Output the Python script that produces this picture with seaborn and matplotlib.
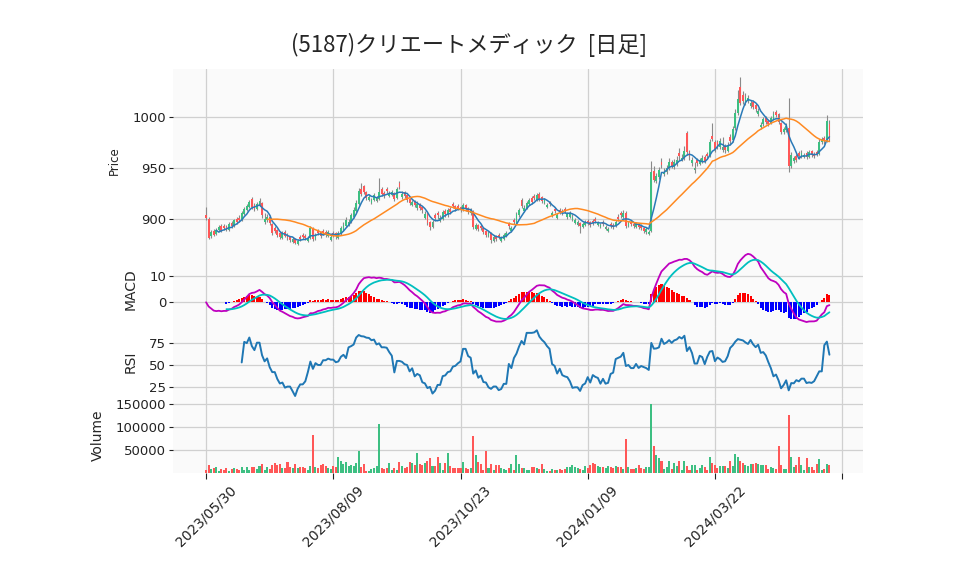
import numpy as np
import pandas as pd
import seaborn as sns
import matplotlib.pyplot as plt

title = '(5187)クリエートメディック  [日足]'
tick_pos = [0, 50, 100, 150, 200, 250]
tick_labels = ['2023/05/30', '2023/08/09', '2023/10/23', '2024/01/09', '2024/03/22', '']

opens = [
    903, 900, 883, 888, 885, 889, 893, 893, 892, 889, 896, 893, 900, 901, 899, 904, 908, 911, 919, 913,
    909, 913, 915, 897, 899, 902, 895, 891, 889, 886, 881, 887, 884, 882, 877, 880, 875, 882, 884, 883,
    878, 881, 891, 880, 888, 887, 888, 887, 883, 879, 886, 886, 881, 885, 889, 893, 894, 897, 902, 907,
    914, 929, 932, 926, 918, 915, 918, 917, 919, 929, 925, 929, 922, 923, 925, 920, 935, 921, 926, 923,
    919, 913, 917, 910, 914, 911, 901, 905, 897, 892, 903, 905, 898, 900, 907, 903, 909, 914, 912, 912,
    911, 908, 913, 910, 905, 907, 890, 894, 893, 891, 888, 883, 886, 878, 883, 884, 878, 880, 883, 895,
    888, 899, 896, 903, 918, 907, 910, 914, 920, 922, 918, 924, 921, 915, 911, 916, 903, 909, 901, 908,
    907, 909, 902, 902, 899, 896, 894, 896, 892, 894, 898, 897, 898, 900, 894, 892, 897, 890, 888, 895,
    894, 893, 902, 905, 902, 905, 893, 897, 895, 892, 895, 893, 891, 887, 885, 888, 947, 937, 941, 956,
    944, 946, 950, 956, 951, 954, 965, 958, 960, 984, 966, 955, 948, 958, 954, 956, 961, 964, 962, 981,
    975, 975, 971, 968, 972, 967, 980, 977, 989, 1004, 1030, 1022, 1014, 1016, 1011, 1015, 1012, 1003, 990, 993,
    999, 996, 994, 998, 1005, 1003, 994, 985, 987, 989, 952, 957, 962, 965, 961, 961, 965, 961, 967, 964,
    966, 964, 975, 979, 976, 993,
]
highs = [
    911, 902, 889, 890, 891, 894, 895, 895, 894, 897, 898, 900, 902, 903, 907, 911, 914, 918, 921, 915,
    916, 920, 916, 905, 904, 903, 896, 893, 890, 887, 888, 889, 886, 883, 882, 881, 880, 884, 886, 885,
    883, 893, 892, 886, 890, 888, 890, 889, 889, 884, 888, 887, 888, 893, 897, 902, 900, 905, 911, 918,
    930, 935, 933, 927, 923, 920, 925, 922, 940, 931, 927, 931, 927, 928, 926, 931, 937, 927, 927, 924,
    920, 918, 918, 917, 915, 912, 907, 906, 898, 899, 905, 907, 903, 908, 909, 910, 911, 916, 913, 914,
    912, 915, 914, 911, 910, 908, 896, 895, 895, 892, 889, 888, 887, 884, 884, 886, 883, 886, 888, 897,
    893, 901, 906, 910, 920, 913, 917, 920, 922, 924, 925, 926, 922, 920, 915, 917, 907, 911, 905, 910,
    909, 911, 906, 907, 904, 901, 899, 897, 897, 899, 900, 898, 900, 902, 898, 896, 899, 894, 892, 897,
    896, 899, 904, 907, 908, 907, 898, 899, 897, 897, 896, 895, 892, 892, 889, 957, 952, 945, 951, 960,
    950, 953, 960, 958, 959, 962, 970, 964, 972, 986, 968, 961, 956, 960, 960, 963, 963, 966, 978, 994,
    977, 977, 979, 980, 974, 975, 983, 991, 1008, 1027, 1040, 1026, 1024, 1022, 1017, 1017, 1014, 1009, 995, 1000,
    1001, 998, 1001, 1006, 1007, 1004, 995, 990, 994, 1019, 966, 962, 964, 967, 968, 965, 967, 968, 968, 966,
    968, 978, 980, 981, 1002, 997,
]
lows = [
    899, 880, 881, 883, 884, 888, 887, 889, 888, 888, 891, 892, 895, 897, 898, 903, 907, 910, 909, 907,
    908, 912, 901, 895, 897, 894, 884, 886, 882, 880, 880, 882, 879, 877, 876, 875, 874, 878, 880, 879,
    877, 880, 878, 879, 884, 881, 884, 882, 882, 878, 882, 880, 880, 884, 888, 892, 893, 896, 901, 906,
    913, 922, 924, 918, 917, 914, 917, 916, 918, 922, 920, 925, 921, 922, 917, 919, 929, 919, 920, 916,
    913, 912, 911, 908, 908, 905, 900, 894, 889, 891, 898, 900, 897, 899, 902, 902, 904, 910, 907, 908,
    906, 907, 907, 904, 903, 890, 889, 888, 889, 885, 882, 882, 876, 877, 878, 880, 877, 879, 882, 890,
    887, 895, 895, 902, 910, 906, 909, 913, 914, 918, 917, 917, 915, 914, 910, 912, 902, 905, 900, 904,
    903, 905, 900, 901, 898, 895, 893, 886, 891, 893, 894, 892, 894, 896, 893, 891, 893, 889, 887, 891,
    890, 892, 898, 901, 901, 891, 892, 893, 891, 891, 890, 889, 886, 885, 884, 887, 936, 935, 939, 950,
    942, 944, 948, 950, 949, 952, 958, 957, 958, 963, 958, 952, 945, 952, 953, 955, 955, 959, 961, 976,
    966, 969, 969, 966, 965, 966, 973, 975, 987, 1002, 1012, 1013, 1012, 1014, 1009, 1008, 1005, 1001, 988, 991,
    993, 991, 993, 997, 1000, 993, 983, 983, 985, 946, 950, 955, 956, 959, 960, 960, 959, 960, 961, 960,
    962, 963, 974, 974, 975, 976,
]
closes = [
    901, 881, 887, 884, 889, 892, 888, 891, 889, 895, 893, 899, 897, 899, 905, 909, 912, 916, 911, 909,
    914, 917, 903, 900, 902, 896, 886, 888, 884, 882, 886, 883, 881, 879, 880, 876, 878, 880, 882, 881,
    881, 891, 880, 884, 886, 883, 886, 884, 887, 882, 884, 883, 886, 891, 894, 899, 897, 903, 908, 915,
    927, 924, 926, 920, 921, 918, 923, 920, 926, 924, 922, 927, 925, 926, 919, 929, 931, 924, 922, 918,
    915, 916, 913, 914, 910, 908, 904, 896, 892, 897, 901, 903, 901, 906, 904, 908, 906, 912, 909, 910,
    908, 913, 909, 906, 908, 892, 894, 890, 891, 887, 884, 886, 879, 882, 880, 882, 881, 884, 886, 893,
    891, 897, 904, 908, 912, 910, 915, 918, 916, 920, 923, 919, 917, 918, 913, 914, 905, 907, 903, 906,
    905, 907, 904, 905, 902, 899, 897, 893, 895, 897, 896, 894, 896, 898, 896, 894, 895, 892, 890, 893,
    892, 897, 900, 903, 905, 893, 896, 895, 893, 895, 892, 891, 888, 890, 887, 946, 938, 942, 948, 953,
    946, 950, 956, 952, 956, 958, 962, 960, 967, 966, 962, 958, 950, 955, 958, 960, 957, 962, 975, 978,
    968, 972, 976, 971, 968, 972, 976, 988, 1004, 1018, 1014, 1016, 1020, 1019, 1014, 1010, 1008, 1006, 992, 998,
    995, 993, 999, 1003, 1002, 995, 985, 988, 991, 952, 963, 960, 958, 962, 965, 963, 961, 966, 963, 962,
    964, 975, 978, 976, 996, 978,
]
volumes = [
    6000, 17000, 8000, 11000, 12500, 4000, 7500, 6000, 10500, 4000, 7500, 10500, 8500, 6000, 12500, 7000, 12500, 6000, 12500, 12500,
    8000, 14000, 19500, 6000, 12500, 7500, 17000, 22000, 17000, 19500, 10500, 10500, 24000, 12500, 10000, 19500, 10500, 12500, 12500, 10500,
    6000, 15000, 83000, 12500, 10500, 17000, 19500, 15000, 10500, 8000, 15000, 12500, 35500, 26500, 19500, 24000, 15000, 17000, 15000, 22000,
    47000, 12500, 19500, 4000, 4000, 8000, 10500, 15000, 106000, 10500, 8500, 10500, 22000, 6000, 10500, 6000, 24000, 15000, 10500, 12500,
    24000, 22000, 17000, 42500, 19500, 17000, 22000, 26500, 33000, 15000, 15000, 35500, 22000, 6000, 22000, 42500, 15000, 10500, 10500, 10500,
    10500, 24000, 10500, 8000, 10500, 81000, 38000, 24000, 19500, 6000, 47000, 10500, 19500, 6000, 17000, 17000, 10500, 8000, 6000, 10500,
    19500, 6000, 38000, 19500, 10500, 10500, 6000, 6000, 12500, 12500, 10500, 8000, 19500, 8000, 4000, 4000, 8000, 6000, 6000, 8000,
    6000, 8000, 12500, 12500, 17000, 12500, 10500, 8000, 6000, 15000, 10500, 17000, 22000, 19500, 15000, 12500, 12500, 10500, 15000, 12500,
    10500, 15000, 12500, 12500, 8000, 74000, 12500, 8000, 8000, 10500, 17000, 10500, 8000, 12500, 12500, 151000, 58000, 38000, 33000, 26500,
    8000, 12500, 26500, 8000, 22000, 15000, 26500, 6000, 26500, 15000, 6000, 17000, 17000, 6000, 10500, 17000, 12500, 6000, 35500, 22000,
    17000, 10500, 15000, 15000, 15000, 10500, 26500, 15000, 40000, 35500, 26500, 22000, 17000, 15000, 19500, 19500, 22000, 19500, 17000, 17000,
    17000, 8000, 12500, 10500, 8000, 58000, 17000, 8000, 8000, 126000, 35500, 12500, 17000, 35500, 17000, 6000, 33000, 12500, 12500, 6000,
    19500, 31000, 6000, 8000, 19500, 17000,
]

up_color = '#3dbf82'
down_color = '#ff5757'

df = pd.DataFrame({'open': opens, 'high': highs, 'low': lows, 'close': closes, 'volume': volumes})
df['x'] = np.arange(len(df))
df['ma5'] = df['close'].rolling(5).mean()
df['ma25'] = df['close'].rolling(25).mean()
ema12 = df['close'].ewm(span=12, adjust=False).mean()
ema26 = df['close'].ewm(span=26, adjust=False).mean()
df['macd'] = ema12 - ema26
df['signal'] = df['macd'].ewm(span=9, adjust=False, min_periods=9).mean()
df['hist'] = df['macd'] - df['signal']
diff = df['close'].diff()
gain = diff.clip(lower=0).rolling(14).mean()
loss = (-diff.clip(upper=0)).rolling(14).mean()
df['rsi'] = 100 * gain / (gain + loss)

up = df['close'] >= df['open']
colors = np.where(up, up_color, down_color)

sns.set_theme(style='whitegrid')
plt.rcParams['font.family'] = ['DejaVu Sans', 'Noto Sans CJK JP']

fig = plt.figure(figsize=(9.58, 5.75), dpi=100)
W, H = 958, 575
left, width = 173 / W, 690 / W

def panel(top, bottom):
    return fig.add_axes([left, 1 - bottom / H, width, (bottom - top) / H])

ax_p = panel(69, 253)
ax_m = panel(253, 326)
ax_r = panel(326, 398)
ax_v = panel(398, 472.7)

for ax in (ax_p, ax_m, ax_r, ax_v):
    ax.set_facecolor('#fafafa')
    ax.grid(True, color='#d0d0d0', lw=0.9)
    ax.set_axisbelow(True)
    for s in ax.spines.values():
        s.set_visible(False)
    ax.set_xlim(-13, 258.2)
    ax.set_xticks(tick_pos)
    ax.tick_params(axis='y', left=True, length=3, width=0.8, color='#222222',
                   labelsize=9.5, pad=2, labelcolor='#222222')
    ax.tick_params(axis='x', bottom=False, labelbottom=False)

# candles
ax_p.vlines(df['x'], df['low'], df['high'], color='#8a8a8a', lw=0.8, zorder=2)
body_lo = np.minimum(df['open'], df['close'])
body_h = np.maximum((df['close'] - df['open']).abs(), 0.6)
ax_p.bar(df['x'], body_h, bottom=body_lo, width=0.72, color=colors, zorder=3, linewidth=0)
sns.lineplot(data=df, x='x', y='ma5', ax=ax_p, color='#2a7ab8', lw=1.1, zorder=4)
sns.lineplot(data=df, x='x', y='ma25', ax=ax_p, color='#ff8a22', lw=1.1, zorder=4)
ax_p.set_ylim(866, 1047.5)
ax_p.set_yticks([900, 950, 1000])
ax_p.set_ylabel('Price', fontsize=8.5, labelpad=8)
ax_p.set_xlabel('')

# MACD
hist_colors = np.where(df['hist'] >= 0, 'red', 'blue')
ax_m.bar(df['x'], df['hist'].fillna(0), width=0.8, color=hist_colors, linewidth=0, zorder=2)
sns.lineplot(data=df, x='x', y='macd', ax=ax_m, color='#bf00bf', lw=1.3, zorder=3)
sns.lineplot(data=df, x='x', y='signal', ax=ax_m, color='#00bfbf', lw=1.3, zorder=3)
ax_m.set_ylim(-9, 18.7)
ax_m.set_yticks([0, 10])
ax_m.set_ylabel('MACD', fontsize=10, labelpad=8)
ax_m.set_xlabel('')

# RSI
sns.lineplot(data=df, x='x', y='rsi', ax=ax_r, color='#1f77b4', lw=1.4)
ax_r.set_ylim(13, 93.7)
ax_r.set_yticks([25, 50, 75])
ax_r.set_ylabel('RSI', fontsize=10, labelpad=8)
ax_r.set_xlabel('')

# Volume
ax_v.bar(df['x'], df['volume'], width=0.8, color=colors, linewidth=0)
ax_v.set_ylim(0, 164000)
ax_v.set_yticks([50000, 100000, 150000])
ax_v.set_yticklabels(['50000', '100000', '150000'])
ax_v.set_ylabel('Volume', fontsize=10, labelpad=8)
ax_v.set_xlabel('')
ax_v.tick_params(axis='x', bottom=True, labelbottom=True, length=4, width=0.8,
                 color='#222222', labelsize=10, labelcolor='#222222')
ax_v.set_xticks(tick_pos)
ax_v.set_xticklabels(tick_labels, rotation=45, ha='center')

fig.text(0.49, 0.922, title, ha='center', va='center', fontsize=16,
         family=['Noto Sans CJK JP', 'DejaVu Sans'])

fig.savefig('out.png', dpi=100)
